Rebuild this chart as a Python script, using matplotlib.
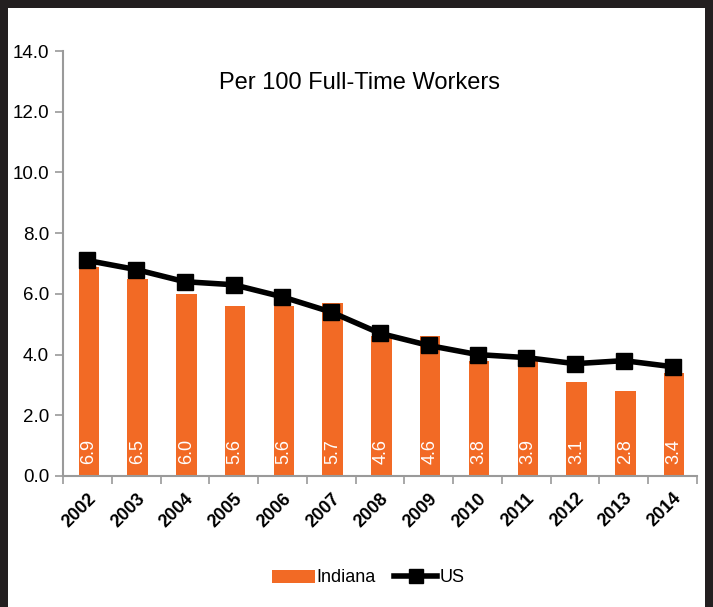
import matplotlib
matplotlib.use("Agg")
import matplotlib.pyplot as plt
from matplotlib.patches import Rectangle
from matplotlib.lines import Line2D
from matplotlib.patches import Patch
import numpy as np

years = ["2002", "2003", "2004", "2005", "2006", "2007", "2008",
         "2009", "2010", "2011", "2012", "2013", "2014"]
indiana = [6.9, 6.5, 6.0, 5.6, 5.6, 5.7, 4.6, 4.6, 3.8, 3.9, 3.1, 2.8, 3.4]
us = [7.1, 6.8, 6.4, 6.3, 5.9, 5.4, 4.7, 4.3, 4.0, 3.9, 3.7, 3.8, 3.6]
y_ticks = [0, 2, 4, 6, 8, 10, 12, 14]
title = "Per 100 Full-Time Workers"

ORANGE = "#F26A25"
GRAY = "#9a9a9a"
FONT = ["Liberation Sans Narrow", "Liberation Sans", "DejaVu Sans"]
plt.rcParams["font.family"] = FONT

W, H = 713, 607
fig = plt.figure(figsize=(W / 100, H / 100), dpi=100)
fig.patch.set_facecolor("#231f20")
fig.add_artist(Rectangle((8 / W, 0), (705 - 8) / W, (H - 8) / H,
                         transform=fig.transFigure, facecolor="white",
                         edgecolor="none", zorder=0))

ax = fig.add_axes([63 / W, (H - 476) / H, (697 - 63) / W, (476 - 51) / H])
ax.set_facecolor("none")
x = np.arange(len(years))
bars = ax.bar(x + 0.03, indiana, width=0.42, color=ORANGE, zorder=2)
ax.plot(x, us, color="black", lw=4, marker="s", markersize=12,
        zorder=3, solid_capstyle="round")

for xi, v in zip(x, indiana):
    ax.text(xi + 0.03, 0.8, f"{v:.1f}", rotation=90, ha="center", va="center",
            color="white", fontsize=13, zorder=4)

ax.set_xlim(-0.5, len(years) - 0.5)
ax.set_ylim(0, 14)
ax.set_yticks(y_ticks)
ax.set_yticklabels([f"{t:.1f}" for t in y_ticks], fontsize=13.5)
ax.set_xticks(x)
ax.set_xticklabels(years, rotation=45, ha="right", rotation_mode="anchor",
                   fontsize=13, fontweight="bold")
ax.tick_params(axis="x", length=0, pad=10)
ax.set_xticks(np.arange(-0.5, len(years)), minor=True)
ax.tick_params(axis="x", which="minor", length=6, color=GRAY, width=1.2)
ax.tick_params(axis="y", length=6, color=GRAY, width=1.2, pad=4)
for s in ["top", "right"]:
    ax.spines[s].set_visible(False)
for s in ["left", "bottom"]:
    ax.spines[s].set_color(GRAY)
    ax.spines[s].set_linewidth(1.5)

ax.text(0.467, 0.925, title, transform=ax.transAxes, ha="center", va="center",
        fontsize=17)

handles = [Patch(facecolor=ORANGE, label="Indiana"),
           Line2D([0], [0], color="black", lw=4, marker="s", markersize=10,
                  label="US")]
fig.legend(handles=handles, loc="center", bbox_to_anchor=(368 / W, 1 - 578 / H),
           ncol=2, frameon=False, fontsize=13, handlelength=2.4,
           handletextpad=0.1, columnspacing=1.0)

fig.savefig("out.png", dpi=100)
